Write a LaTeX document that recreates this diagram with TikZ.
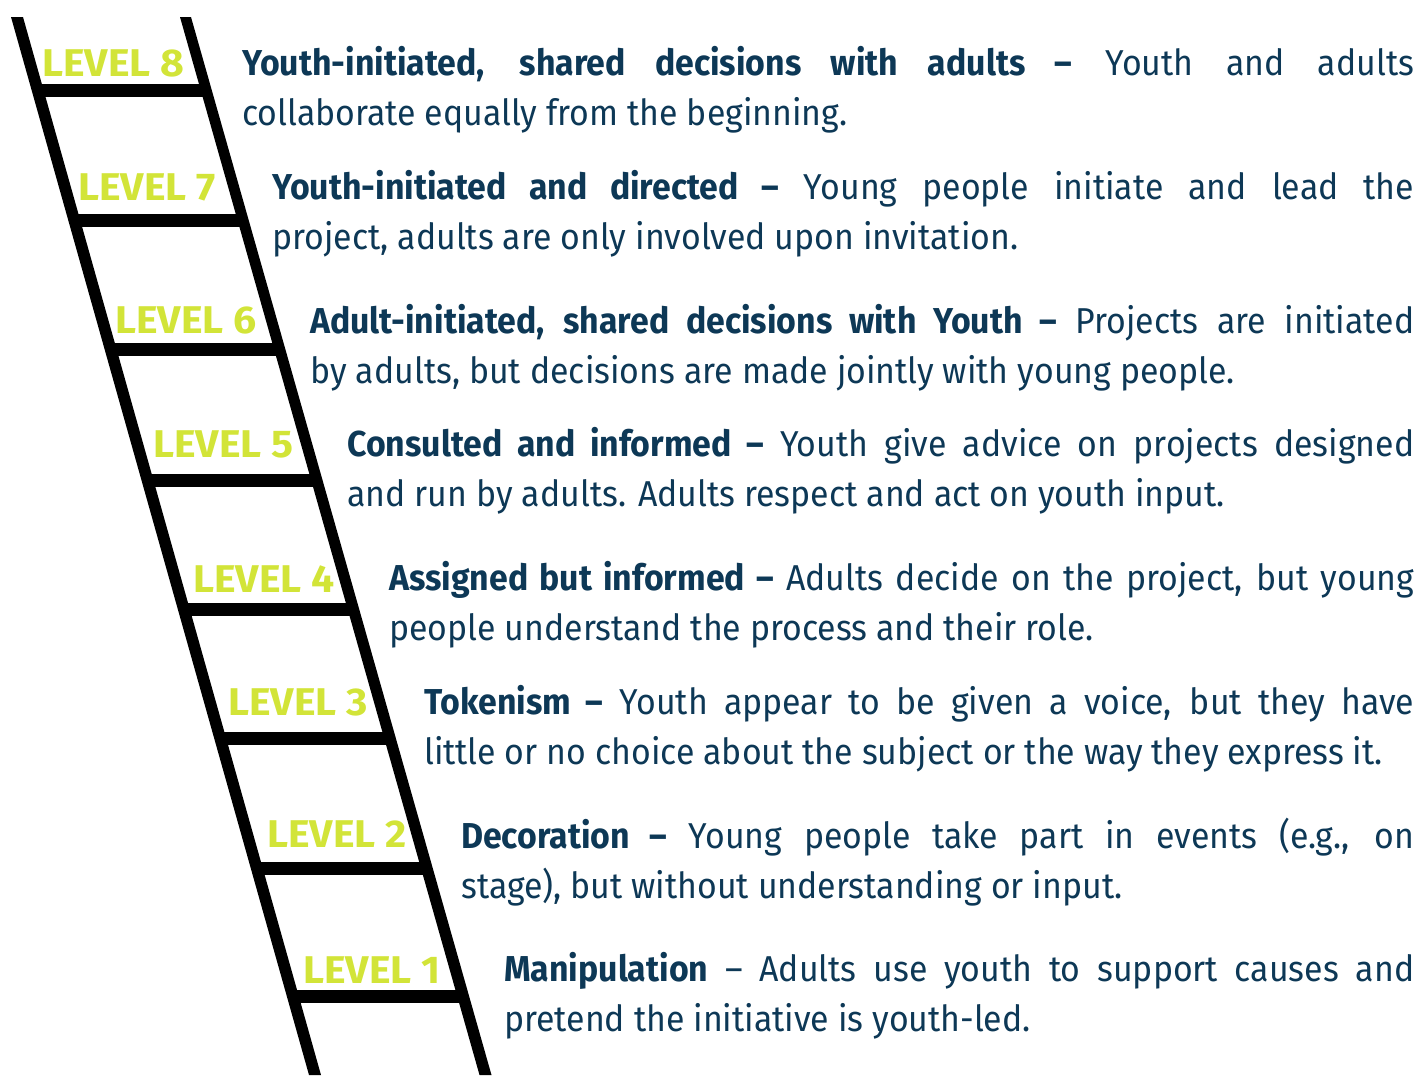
\documentclass[tikz,border=0pt]{standalone}
\usepackage{fontspec}
\setmainfont{Fira Sans}[FakeStretch=0.94]
\newfontfamily\lvlfont{Fira Sans}[FakeStretch=1.06]
\definecolor{navy}{RGB}{13,56,86}
\definecolor{lime}{RGB}{210,228,56}

\tikzset{
  rung/.style={draw=black, line width=9.75pt},
  lvl/.style={anchor=base west, inner sep=0pt, text=lime, font=\lvlfont\fontsize{29}{29}\selectfont\bfseries},
  desc/.style={anchor=base west, inner sep=0pt, text=navy, align=justify, font=\fontsize{27}{37.5}\selectfont}
}

\begin{document}
\begin{tikzpicture}[x=0.75pt,y=0.75pt,yscale=-1,xscale=1]
\useasboundingbox (0,0) rectangle (1421,1075);

%Rails
\fill [black] (11,17) -- (23,17) -- (321,1075) -- (309,1075) -- cycle;
\fill [black] (180,17) -- (191,17) -- (491.5,1075) -- (479.5,1075) -- cycle;

%Rungs
\draw [rung] (37.6,90) -- (206.2,90);
\draw [rung] (74.2,220) -- (243.1,220);
\draw [rung] (110.5,349) -- (279.7,349);
\draw [rung] (147.4,480) -- (316.8,480);
\draw [rung] (183.8,609) -- (353.4,609);
\draw [rung] (220.1,738) -- (390,738);
\draw [rung] (256.7,868) -- (426.8,868);
\draw [rung] (292.8,996) -- (463.1,996);

% Level labels
\node [lvl] (lvl8) at (42,76) {LEVEL 8};
\node [lvl] (lvl7) at (78,200) {LEVEL 7};
\node [lvl] (lvl6) at (115,333) {LEVEL 6};
\node [lvl] (lvl5) at (153,457) {LEVEL 5};
\node [lvl] (lvl4) at (193,592) {LEVEL 4};
\node [lvl] (lvl3) at (228,715) {LEVEL 3};
\node [lvl] (lvl2) at (267,847) {LEVEL 2};
\node [lvl] (lvl1) at (303,983) {LEVEL 1};

% Text Nodes
\node [desc, text width=879pt] (txt8) at (242,75) {{\bfseries Youth-initiated, shared decisions with adults –} Youth and adults\linebreak collaborate equally from the beginning.};
\node [desc, text width=856.5pt] (txt7) at (272,199) {{\bfseries Youth-initiated and directed –} Young people initiate and lead the\linebreak project, adults are only involved upon invitation.};
\node [desc, text width=828pt] (txt6) at (310,333) {{\bfseries Adult-initiated, shared decisions with Youth –} Projects are initiated\linebreak by adults, but decisions are made jointly with young people.};
\node [desc, text width=800.25pt] (txt5) at (347,456) {{\bfseries Consulted and informed –} Youth give advice on projects designed\linebreak and run by adults. Adults respect and act on youth input.};
\node [desc, text width=768.75pt] (txt4) at (389,590) {{\bfseries Assigned but informed –} Adults decide on the project, but young\linebreak people understand the process and their role.};
\node [desc, text width=742.5pt] (txt3) at (424,714) {{\bfseries Tokenism –} Youth appear to be given a voice, but they have\linebreak little or no choice about the subject or the way they express it.};
\node [desc, text width=714.75pt] (txt2) at (461,848) {{\bfseries Decoration –} Young people take part in events (e.g., on\linebreak stage), but without understanding or input.};
\node [desc, text width=682.5pt] (txt1) at (504,981) {{\bfseries Manipulation} – Adults use youth to support causes and\linebreak pretend the initiative is youth-led.};

\end{tikzpicture}
\end{document}
